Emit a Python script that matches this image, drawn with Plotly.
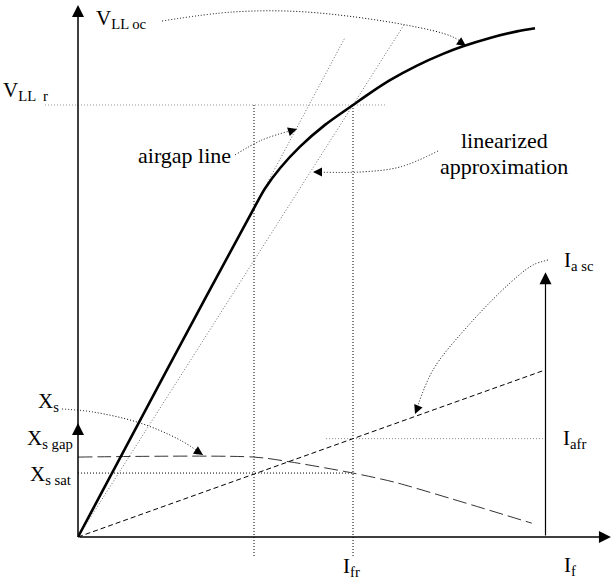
import math
import plotly.graph_objects as go

# ---------------- data (schematic units) ----------------
# open-circuit characteristic: field current If -> line voltage
occ_if = [0.0, 3.2, 6.44, 6.8, 7.345, 8.073, 8.982, 10.0, 10.618, 11.345, 12.327,
          13.273, 14.0, 14.982, 15.964, 16.618]
occ_v = [0.0, 38.3, 76.6, 80.67, 85.36, 90.36, 95.4, 100.0, 102.75, 105.74, 109.12,
         111.83, 113.59, 115.53, 117.04, 117.78]

# airgap line and linearized approximation
airgap_if = [0.0, 9.7]
airgap_v = [0.0, 115.5]
lin_if = [0.0, 11.85]
lin_v = [0.0, 118.5]

# rated quantities
V_r = 100.0
I_fr = 10.0
I_fknee = 6.4
I_afr = 22.77

# synchronous reactance curve
xs_if = [0.0, 6.4, 7.7, 10.0, 11.5, 13.5, 16.5]
xs_val = [18.5, 18.5, 17.4, 14.8, 12.7, 9.0, 3.2]
Xs_sat = 14.8

# short-circuit characteristic
sc_if = [0.0, 17.0]
sc_ia = [0.0, 38.7]

# axes extents
x_range = [-2.8364, 19.418]
y_range = [-11.343, 124.306]
v_axis_top = 123.15
if_axis_end = 19.38
ia_axis_if = 17.0
ia_axis_top = 61.3
xs_axis_tip = 26.4
guide_bottom = -4.86
vr_line_if = [-1.2, 11.2]
afr_line_if = [9.02, 17.0]

# pointer curves (label -> curve)
ptr_voc_if = [3.055, 5.636, 8.291, 11.927, 13.636, 14.109]
ptr_voc_v = [119.44, 121.53, 121.53, 118.52, 115.74, 113.66]
ptr_gap_if = [5.709, 6.691, 7.964]
ptr_gap_v = [88.43, 91.9, 94.44]
ptr_lin_if = [13.09, 11.709, 10.255, 8.545]
ptr_lin_v = [89.35, 85.65, 84.49, 84.49]
ptr_xs_if = [-0.582, 0.545, 2.255, 3.709, 4.545]
ptr_xs_v = [29.63, 28.94, 26.39, 22.45, 18.98]
ptr_ia_if = [17.09, 16.545, 15.709, 14.145, 12.909, 12.255]
ptr_ia_v = [64.12, 62.96, 58.8, 48.61, 38.66, 28.47]

W, H = 612, 586
kx = W / (x_range[1] - x_range[0])
ky = H / (y_range[1] - y_range[0])

FONT = "Liberation Serif"
fig = go.Figure()


def line(xs, ys, color="black", width=1.0, dash="solid", shape="linear", smoothing=1.0):
    fig.add_trace(go.Scatter(
        x=xs, y=ys, mode="lines", hoverinfo="skip",
        line=dict(color=color, width=width, dash=dash, shape=shape,
                  smoothing=smoothing if shape == "spline" else None)))


DOT = "1px,2px"

# guide lines
line(vr_line_if, [V_r, V_r], color="#9a9a9a", dash=DOT)
line([I_fknee, I_fknee], [V_r, guide_bottom], color="black", dash=DOT)
line([I_fr, I_fr], [V_r, guide_bottom], color="black", dash=DOT)
line([0, I_fr], [Xs_sat, Xs_sat], color="black", dash=DOT)
line(afr_line_if, [I_afr, I_afr], color="#8a8a8a", dash=DOT)

# characteristic lines
line(airgap_if, airgap_v, color="#6a6a6a", dash=DOT)
line(lin_if, lin_v, color="#6a6a6a", dash=DOT)
line(xs_if, xs_val, color="#333333", dash="14px,5px", shape="spline", smoothing=0.8)
line(sc_if, sc_ia, color="black", dash="5px,3px")
line(occ_if, occ_v, color="black", width=2.6, shape="spline", smoothing=0.8)

annotations = []

# pointer curves with arrowheads
for px_, py_ in [(ptr_voc_if, ptr_voc_v), (ptr_gap_if, ptr_gap_v), (ptr_lin_if, ptr_lin_v),
                 (ptr_xs_if, ptr_xs_v), (ptr_ia_if, ptr_ia_v)]:
    line(px_, py_, color="black", dash=DOT, shape="spline", smoothing=1.0)
    dx = (px_[-1] - px_[-2]) * kx
    dy = -(py_[-1] - py_[-2]) * ky
    n = math.hypot(dx, dy)
    annotations.append(dict(
        x=px_[-1], y=py_[-1], xref="x", yref="y", text="", showarrow=True,
        ax=-dx / n * 8, ay=-dy / n * 8, arrowhead=2, arrowsize=1.8,
        arrowwidth=1, arrowcolor="black", standoff=0))

# axes with arrowheads
for (tx, ty, hx, hy, w) in [(0, 0, 0, v_axis_top, 1.5), (0, 0, if_axis_end, 0, 1.5),
                            (ia_axis_if, 0, ia_axis_if, ia_axis_top, 1.2)]:
    annotations.append(dict(
        x=hx, y=hy, ax=tx, ay=ty, xref="x", yref="y", axref="x", ayref="y",
        text="", showarrow=True, arrowhead=2, arrowsize=1.6 / w * 1.5,
        arrowwidth=w, arrowcolor="black", standoff=0))
annotations.append(dict(
    x=0, y=xs_axis_tip, xref="x", yref="y", text="", showarrow=True,
    ax=0, ay=10, arrowhead=2, arrowsize=1.6, arrowwidth=1.5,
    arrowcolor="black", standoff=0))


def lab(text, px, py, size=21, xanchor="left"):
    annotations.append(dict(
        text=text, xref="paper", yref="paper", x=px / W, y=1 - py / H,
        xanchor=xanchor, yanchor="top", showarrow=False, borderpad=0,
        font=dict(family=FONT, size=size, color="black")))


lab("V<sub>LL oc</sub>", 95, 5)
lab("V<sub>LL  r</sub>", 2, 77)
lab("airgap line", 137, 142, size=22)
lab("linearized", 504, 127, size=22, xanchor="center")
lab("approximation", 504, 153, size=22, xanchor="center")
lab("I<sub>a sc</sub>", 563, 247)
lab("X<sub>s</sub>", 37, 388)
lab("X<sub>s gap</sub>", 26, 425)
lab("X<sub>s sat</sub>", 29, 461)
lab("I<sub>afr</sub>", 562, 425)
lab("I<sub>fr</sub>", 342, 553)
lab("I<sub>f</sub>", 563, 552)

fig.update_layout(
    width=W, height=H, margin=dict(l=0, r=0, t=0, b=0),
    paper_bgcolor="white", plot_bgcolor="white", showlegend=False,
    xaxis=dict(range=x_range, visible=False, fixedrange=True),
    yaxis=dict(range=y_range, visible=False, fixedrange=True),
    annotations=annotations,
)
fig.write_html("out.html", config={"displayModeBar": False},
               post_script="document.body.style.margin='0px';document.body.style.overflow='hidden';")
